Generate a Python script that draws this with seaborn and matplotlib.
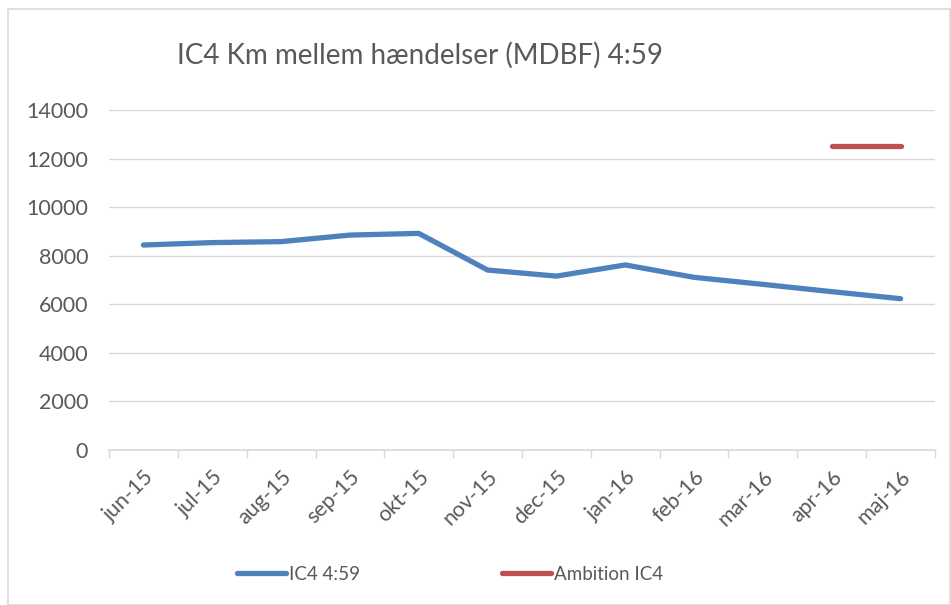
import matplotlib
matplotlib.use("Agg")
import matplotlib.pyplot as plt
import seaborn as sns
import pandas as pd
import numpy as np
from matplotlib.patches import Rectangle

months = ["jun-15", "jul-15", "aug-15", "sep-15", "okt-15", "nov-15",
          "dec-15", "jan-16", "feb-16", "mar-16", "apr-16", "maj-16"]
ic4 = [8440, 8540, 8580, 8850, 8920, 7410, 7160, 7620, 7110, 6820, 6520, 6230]
ambition_months = ["apr-16", "maj-16"]
ambition = [12500, 12500]
yticks = [0, 2000, 4000, 6000, 8000, 10000, 12000, 14000]

sns.set_theme(style="white")
plt.rcParams["font.family"] = ["Lato", "DejaVu Sans"]
txt = "#595959"
grid = "#d9d9d9"
blue = "#4F81BD"
red = "#C0504D"

fig = plt.figure(figsize=(9.51, 6.05), dpi=100)
W, H = 951, 605
ax = fig.add_axes([109 / W, 1 - 450 / H, (935 - 109) / W, (450 - 110) / H])

df1 = pd.DataFrame({"month": months, "value": ic4})
df2 = pd.DataFrame({"month": ambition_months, "value": ambition})
sns.lineplot(data=df1, x="month", y="value", ax=ax, color=blue, lw=3.8,
             solid_capstyle="round", label="IC4 4:59", legend=False)
sns.lineplot(data=df2, x="month", y="value", ax=ax, color=red, lw=3.8,
             solid_capstyle="round", label="Ambition IC4", legend=False)

ax.set_xlim(-0.5, len(months) - 0.5)
ax.set_ylim(0, 14000)
ax.set_yticks(yticks)
ax.set_yticklabels([str(v) for v in yticks], fontsize=15.5, color=txt)
ax.set_xticks(range(len(months)))
ax.set_xticklabels(months, rotation=45, ha="right", rotation_mode="anchor",
                   fontsize=15.5, color=txt)
ax.set_xticks(np.arange(-0.5, len(months), 1), minor=True)
ax.tick_params(axis="x", which="major", length=0, pad=12)
ax.tick_params(axis="x", which="minor", length=6, width=1, color=grid, bottom=True)
ax.tick_params(axis="y", length=0, pad=15)
ax.grid(axis="y", color=grid, lw=1)
ax.set_axisbelow(True)
for s in ["top", "right", "left"]:
    ax.spines[s].set_visible(False)
ax.spines["bottom"].set_color(grid)
ax.spines["bottom"].set_linewidth(1.2)
ax.set_xlabel("")
ax.set_ylabel("")

fig.text(420 / W, 1 - 55 / H, "IC4 Km mellem hændelser (MDBF) 4:59",
         ha="center", va="center", fontsize=20, color=txt)

handles, labels = ax.get_legend_handles_labels()
leg = fig.legend(handles, labels, loc="center", bbox_to_anchor=(450 / W, 1 - 574 / H),
                 ncol=2, frameon=False, fontsize=13.5, handlelength=2.6,
                 handletextpad=0.15, columnspacing=7.6, labelcolor=txt)
for line in leg.get_lines():
    line.set_linewidth(3.8)
    line.set_solid_capstyle("round")

fig.patches.append(Rectangle((8 / W, 0.5 / H), (950 - 8) / W, (604 - 8) / H,
                             transform=fig.transFigure, fill=False,
                             edgecolor=grid, lw=1.2))

fig.savefig("out.png", dpi=100)
